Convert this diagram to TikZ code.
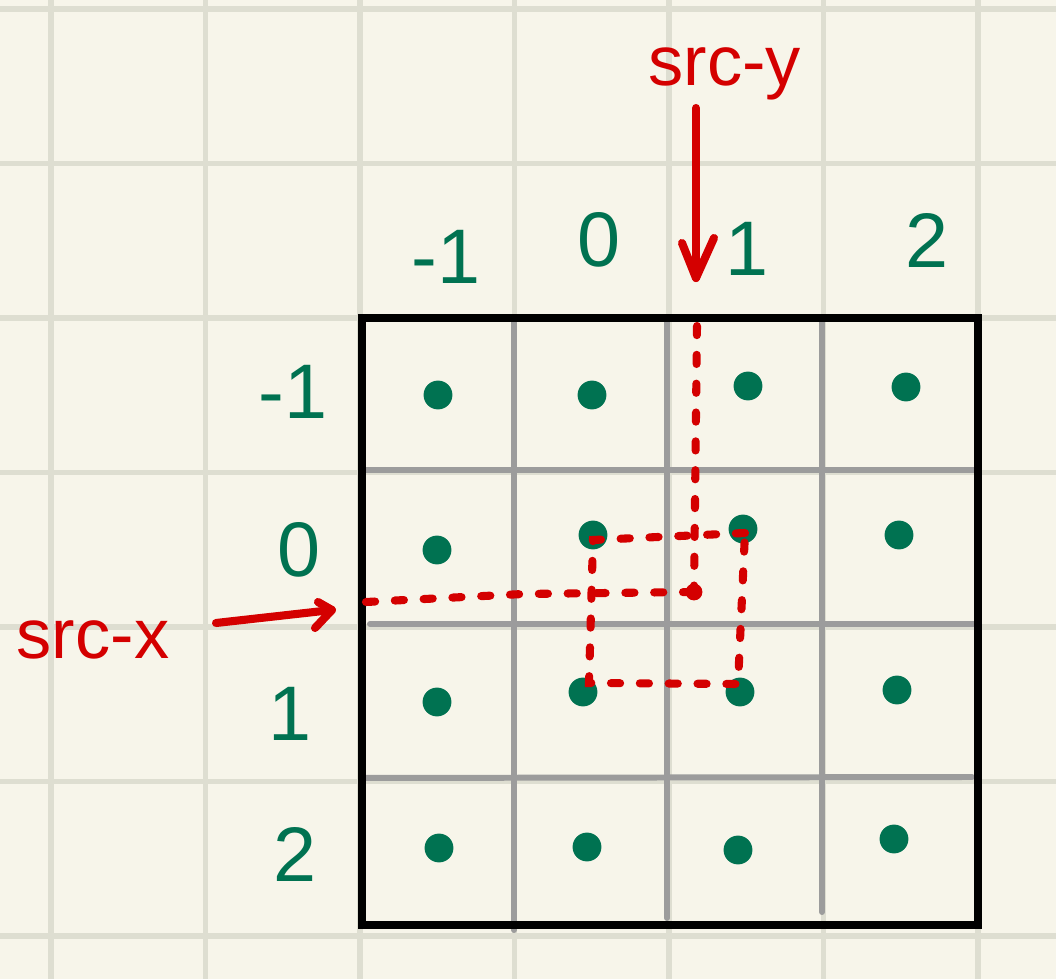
\documentclass[tikz,border=0pt]{standalone}
\usepackage{fontspec}
\setmainfont{Liberation Sans}
\usetikzlibrary{arrows.meta}
\definecolor{paper}{HTML}{F7F5EA}
\definecolor{gridc}{HTML}{DEDED1}
\definecolor{ink}{HTML}{007251}
\definecolor{redink}{HTML}{D40000}
\definecolor{cellgray}{HTML}{9C9C9C}
\begin{document}
\begin{tikzpicture}[x=0.01cm,y=-0.01cm,
  paperline/.style={draw=gridc,line width=1.7pt},
  cellline/.style={draw=cellgray,line width=1.7pt,line cap=round},
  frame/.style={draw=black,line width=2.1pt},
  dot/.style={circle,fill=ink,inner sep=0pt,minimum size=8.2pt},
  idx/.style={text=ink,font=\fontsize{22}{26}\selectfont,inner sep=0pt},
  redlabel/.style={text=redink,font=\fontsize{20}{24}\selectfont,inner sep=0pt},
  redarrow/.style={draw=redink,line width=2.3pt,line cap=round,line join=round},
  reddash/.style={draw=redink,line width=2.3pt,line cap=round,dash pattern=on 2.6pt off 5.6pt}]
\fill[paper] (0,0) rectangle (1056,979);
\useasboundingbox (0,0) rectangle (1056,979);
% paper grid
\foreach \gx in {51,205.5,360,514.5,669,823.5,978} \draw[paperline] (\gx,0) -- (\gx,979);
\foreach \gy in {9,163.5,318,472.5,627,781.5,936} \draw[paperline] (0,\gy) -- (1056,\gy);
% cell lines
\draw[cellline] (514,320) -- (514,930);
\draw[cellline] (667,322) -- (667,918);
\draw[cellline] (822,320) -- (822,912);
\draw[cellline] (362,470) -- (975,470);
\draw[cellline] (370,624) -- (978,624);
\draw[cellline] (362,778) -- (972,777);
\draw[frame] (362,318) rectangle (978,925);
% dots
\node[dot] (dAa) at (438,395) {};
\node[dot] (dAb) at (592,395) {};
\node[dot] (dAc) at (748,386) {};
\node[dot] (dAd) at (906,387) {};
\node[dot] (dBa) at (437,550) {};
\node[dot] (dBb) at (593,535) {};
\node[dot] (dBc) at (743,529) {};
\node[dot] (dBd) at (899,535) {};
\node[dot] (dCa) at (437,702) {};
\node[dot] (dCb) at (583,692) {};
\node[dot] (dCc) at (740,692) {};
\node[dot] (dCd) at (897,690) {};
\node[dot] (dDa) at (439,848) {};
\node[dot] (dDb) at (587,847) {};
\node[dot] (dDc) at (738,850) {};
\node[dot] (dDd) at (894,839) {};
% column labels
\node[idx] (cA) at (446,257) {-1};
\node[idx] (cB) at (599,240) {0};
\node[idx] (cC) at (747,249) {1};
\node[idx] (cD) at (927,240) {2};
% row labels
\node[idx] (rA) at (293,392) {-1};
\node[idx] (rB) at (299,550) {0};
\node[idx] (rC) at (290,714) {1};
\node[idx] (rD) at (295,854) {2};
% red labels
\node[redlabel] (srcy) at (725,74) {src-y};
\node[redlabel] (srcx) at (93,640) {src-x};
% arrows
\coordinate (ya) at (696,108);
\coordinate (yb) at (696,278);
\draw[redarrow] (ya) -- (yb);
\draw[redarrow] (682,243) -- (yb) -- (714,238);
\coordinate (xa) at (216,623);
\coordinate (xb) at (332,610);
\draw[redarrow] (xa) -- (xb);
\draw[redarrow] (318,602) -- (xb) -- (315,628);
% red dashed guides
\coordinate (vt) at (697,326);
\coordinate (meet) at (694,592);
\coordinate (hl) at (366,602);
\draw[reddash] (vt) -- (meet);
\draw[reddash] (hl) -- (523,594) -- (meet);
\fill[redink] (meet) circle[radius=2.4pt];
\coordinate (bTL) at (593,540);
\coordinate (bBL) at (589,683);
\coordinate (bBR) at (738,684);
\coordinate (bTR) at (745,533);
\draw[reddash] (bTR) -- (bTL) -- (bBL) -- (bBR) -- (bTR);
\end{tikzpicture}
\end{document}
